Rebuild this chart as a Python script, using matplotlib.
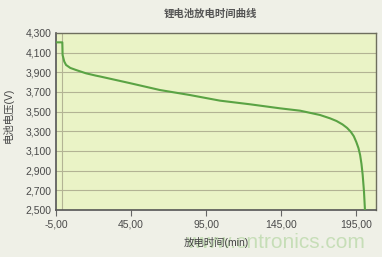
import matplotlib
matplotlib.use("Agg")
from matplotlib import pyplot as plt
from matplotlib.ticker import FuncFormatter

plt.rcParams['font.family'] = ['Liberation Sans', 'Noto Sans CJK SC', 'DejaVu Sans']

# discharge curve
time_min = [-5, -0.8, -0.6, 0.5, 1.7, 4.5, 8.3, 15, 21.7, 24.3, 44.3, 64.3, 84.3, 104.3,
            124.3, 144.3, 157.7, 171, 177.7, 182, 186, 189, 191.5, 193.5, 195.2, 196.6,
            197.7, 198.6, 199.4, 200.3, 201]
voltage = [4205, 4205, 4076, 4010, 3975, 3945, 3924, 3890, 3866, 3858, 3790, 3720, 3669, 3612,
           3575, 3534, 3510, 3466, 3432, 3405, 3370, 3335, 3295, 3250, 3190, 3130,
           3060, 2970, 2860, 2686, 2482]

x_ticks = [-5, 45, 95, 145, 195]
y_ticks = list(range(2500, 4301, 200))

fig = plt.figure(figsize=(3.82, 2.57), dpi=100)
fig.patch.set_facecolor('#eff0e7')
ax = fig.add_axes([0.1466, 0.1829, 0.8377, 0.6887])
ax.set_facecolor('#eaf3c6')

for y in y_ticks[1:-1]:
    ax.axhline(y, color='#b3b394', lw=0.8, zorder=1)
ax.axvline(-1, color='#b3b394', lw=0.8, zorder=1)

ax.plot(time_min, voltage, color='#5aa344', lw=1.5, zorder=3)

ax.set_xlim(-5, 208.3)
ax.set_ylim(2500, 4300)
ax.set_xticks(x_ticks)
ax.set_yticks(y_ticks)
ax.xaxis.set_major_formatter(FuncFormatter(lambda v, p: ('%.2f' % v).replace('.', ',')))
ax.yaxis.set_major_formatter(FuncFormatter(lambda v, p: '{:,}'.format(int(v))))
ax.tick_params(axis='x', direction='out', length=4, width=0.8, color='#666666',
               labelsize=7.5, labelcolor='#4a4a4a', pad=3)
ax.tick_params(axis='y', length=0, labelsize=7.5, labelcolor='#4a4a4a', pad=3)
for side in ('left', 'bottom'):
    ax.spines[side].set_color('#555555')
    ax.spines[side].set_linewidth(1.2)
for side in ('top', 'right'):
    ax.spines[side].set_color('#6e6e5e')
    ax.spines[side].set_linewidth(1.0)

fig.text(0.55, 0.945, '锂电池放电时间曲线', ha='center', va='center',
         fontsize=7.5, color='#555555', fontweight='bold')
fig.text(0.022, 0.55, '电池电压(V)', ha='center', va='center', rotation=90,
         fontsize=7.5, color='#444444')
# site watermark, partly under the axis label as in the reference
fig.text(0.955, 0.055, 'www.cntronics.com', ha='right', va='center',
         fontsize=15, color='#c2dcb2', alpha=0.9)
fig.text(0.565, 0.055, '放电时间(min)', ha='center', va='center',
         fontsize=7.5, color='#444444')

fig.savefig('out.png', dpi=100, facecolor=fig.get_facecolor())
